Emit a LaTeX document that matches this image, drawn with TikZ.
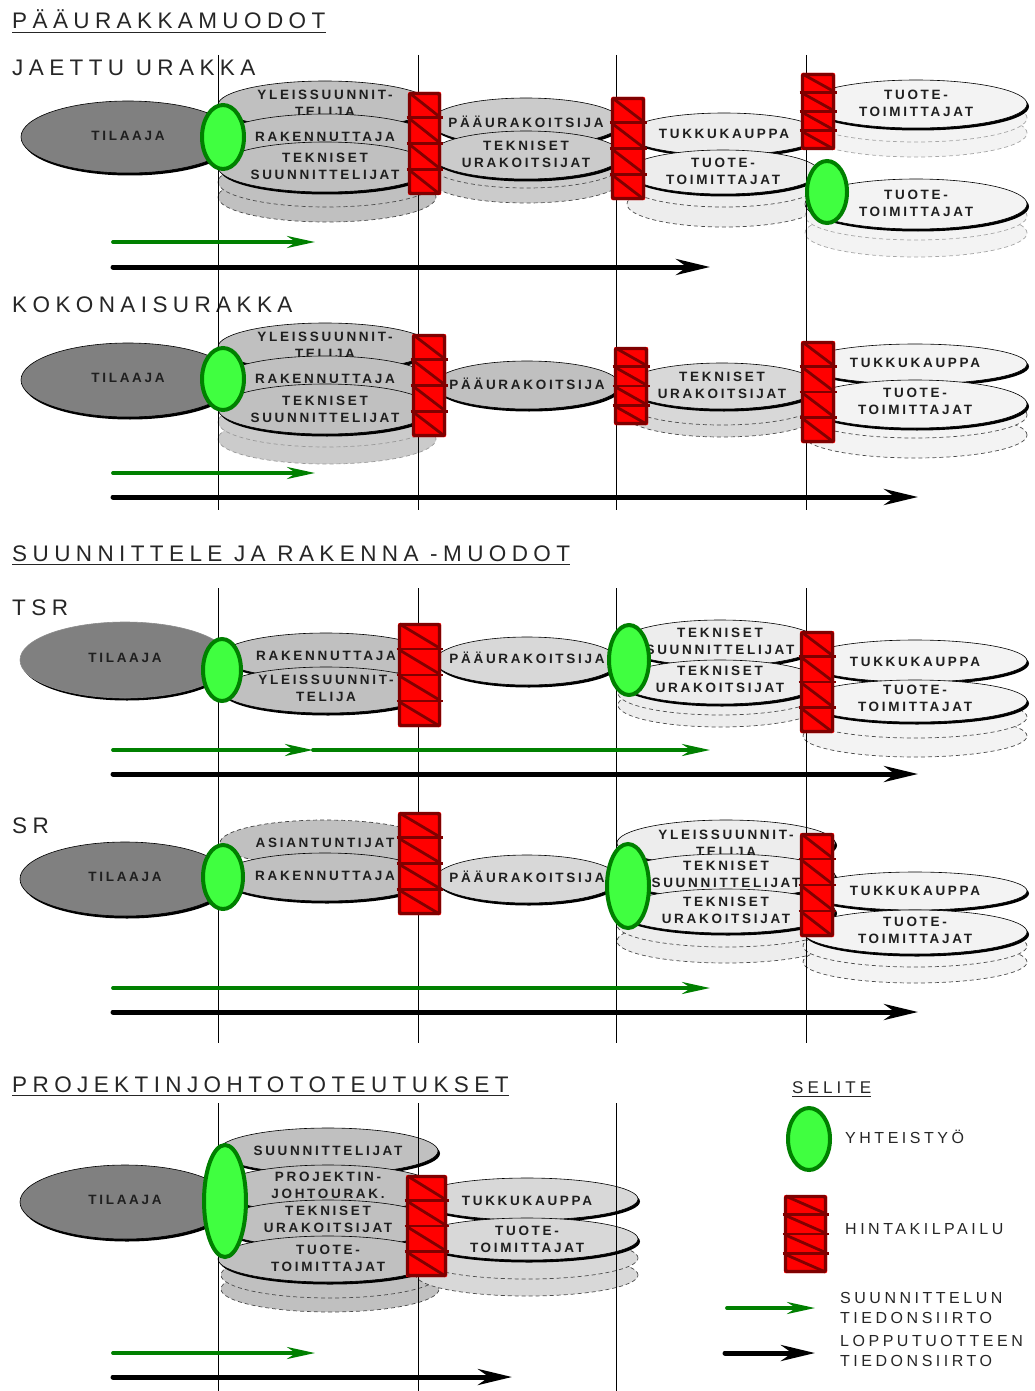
\documentclass[tikz,border=0pt]{standalone}
\usepackage{fontspec}
\setmainfont{Liberation Sans}
\newfontfamily\headfont{Liberation Sans}[LetterSpace=24]
\newfontfamily\tagfont{Liberation Sans}[LetterSpace=20]
\newfontfamily\keyfont{Liberation Sans}[LetterSpace=22]
\usetikzlibrary{arrows.meta}

\definecolor{clientgray}{HTML}{808080}
\definecolor{ga}{HTML}{C0C0C0}
\definecolor{gb}{HTML}{CBCBCB}
\definecolor{gc}{HTML}{D8D8D8}
\definecolor{gd}{HTML}{EDEDED}
\definecolor{ge}{HTML}{F3F3F3}
\definecolor{coopfill}{HTML}{40FF40}
\definecolor{coopedge}{HTML}{008000}
\definecolor{bidfill}{HTML}{FF0000}
\definecolor{bidedge}{HTML}{800000}
\definecolor{flowgreen}{HTML}{008000}

\tikzset{
  ovalline/.style={draw=black, line width=0.6pt},
  ghostline/.style={draw=black!70, line width=0.7pt, dash pattern=on 4pt off 3pt},
  partytext/.style={font=\tagfont\bfseries\fontsize{13.5}{17}\selectfont, align=center, inner sep=0pt, text=black!88},
  headtext/.style={font=\headfont\fontsize{22.5}{26}\selectfont, inner sep=0pt, anchor=base west, text=black!85},
  keytext/.style={font=\keyfont\fontsize{16}{19.5}\selectfont, inner sep=0pt, anchor=west, align=left, text=black!85},
  rule/.style={draw=black!85, line width=1pt},
  vline/.style={draw=black, line width=0.8pt},
  coop/.style={fill=coopfill, draw=coopedge, line width=4pt},
  bidcross/.style={draw=bidedge, line width=2.8pt},
  bidframe/.style={draw=bidedge, line width=3.2pt, rounded corners=1.5pt},
  designflow/.style={draw=flowgreen, line width=3.8pt, line cap=round, -{Stealth[length=28pt,width=12pt,inset=9pt]}},
  productflow/.style={draw=black, line width=5pt, line cap=round, -{Stealth[length=34pt,width=16pt,inset=11pt]}},
}

% party: name, look, cx, cy, rx, ry, text y, text
\newcommand\party[8]{%
  \fill[black, xshift=2pt, yshift=-2.5pt] (#3,#4) ellipse [x radius=#5pt, y radius=#6pt];
  \path[ovalline, #2] (#3,#4) ellipse [x radius=#5pt, y radius=#6pt];
  \node[partytext] (#1) at (#3,#7) {#8};
}
% ghost: look, cx, cy, rx, ry (dashed further parties of the same kind)
\newcommand\ghost[5]{%
  \path[ghostline, #1] (#2,#3) ellipse [x radius=#4pt, y radius=#5pt];
}
% coopmark: cx, cy, rx, ry
\newcommand\coopmark[4]{%
  \path[coop] (#1,#2) ellipse [x radius=#3pt, y radius=#4pt];
}
% bidbox: x1, y1, x2, y2 (four cells with diagonals)
\newcommand\bidbox[4]{%
  \pgfmathsetmacro\bidh{(#4-#2)/4}%
  \path[fill=bidfill, rounded corners=1pt] (#1,#2) rectangle (#3,#4);
  \foreach \k in {0,1,2,3}{%
    \pgfmathsetmacro\bida{#2+\k*\bidh}%
    \pgfmathsetmacro\bidb{#2+(\k+1)*\bidh}%
    \draw[bidcross] (#1+1.5,\bida+1) -- (#3-1.5,\bidb-1);
  }
  \foreach \k in {1,2,3}{%
    \pgfmathsetmacro\bida{#2+\k*\bidh}%
    \draw[bidcross] (#1-1.5,\bida) -- (#3+1.5,\bida);
  }
  \draw[bidframe] (#1+1.5,#2+1.5) rectangle (#3-1.5,#4-1.5);
}

\begin{document}
\begin{tikzpicture}[x=1pt, y=-1pt]
\useasboundingbox (0,0) rectangle (1034,1391);
\fill[white] (0,0) rectangle (1034,1391);

% ---------- headings ----------
\node[headtext] (t-main) at (12,29) {PÄÄURAKKAMUODOT};
\draw[rule] ([yshift=-3.5pt]t-main.base west) -- ([yshift=-3.5pt]t-main.base east);
\node[headtext] (t-ja) at (12,76) {JAETTU URAKKA};
\node[headtext] (t-ko) at (12,312) {KOKONAISURAKKA};
\node[headtext] (t-sr-main) at (12,561) {SUUNNITTELE JA RAKENNA -MUODOT};
\draw[rule] ([yshift=-3.5pt]t-sr-main.base west) -- ([yshift=-3.5pt]t-sr-main.base east);
\node[headtext] (t-tsr) at (12,615) {TSR};
\node[headtext] (t-sr) at (12,833) {SR};
\node[headtext] (t-pj) at (12,1092) {PROJEKTINJOHTOTOTEUTUKSET};
\draw[rule] ([yshift=-3.5pt]t-pj.base west) -- ([yshift=-3.5pt]t-pj.base east);

% ---------- jaettu urakka ----------
\party{ja-tilaaja}{fill=clientgray}{128}{137}{107}{36}{136}{TILAAJA}
\ghost{fill=ga}{327}{197}{109}{25}
\ghost{fill=ga}{327}{182}{109}{25}
\party{ja-yleis}{fill=ga}{325}{105}{107}{24}{103}{YLEISSUUNNIT-\\TELIJA}
\party{ja-rak}{fill=ga}{325}{139}{107}{25}{137}{RAKENNUTTAJA}
\party{ja-tsu}{fill=ga}{325}{167}{107}{25}{166}{TEKNISET\\SUUNNITTELIJAT}
\ghost{fill=gb}{526}{180}{96}{23}
\ghost{fill=gb}{526}{165}{96}{23}
\party{ja-pu}{fill=gb}{526}{122}{96}{24}{122}{PÄÄURAKOITSIJA}
\party{ja-tu}{fill=gb}{526}{155}{96}{24}{154}{TEKNISET\\URAKOITSIJAT}
\ghost{fill=gd}{724}{204}{97}{23}
\ghost{fill=gd}{724}{184}{97}{23}
\party{ja-tk}{fill=gd}{724}{134}{97}{21}{134}{TUKKUKAUPPA}
\party{ja-tt}{fill=gd}{723}{172}{96}{22}{171}{TUOTE-\\TOIMITTAJAT}
\ghost{fill=ge, draw=black!35}{916}{133}{111}{24}
\ghost{fill=ge, draw=black!35}{916}{118}{111}{24}
\party{ja-tt2}{fill=ge}{916}{104}{111}{24}{103}{TUOTE-\\TOIMITTAJAT}
\ghost{fill=ge, draw=black!35}{916}{233}{111}{24}
\ghost{fill=ge, draw=black!35}{916}{216}{111}{24}
\party{ja-tt3}{fill=ge}{916}{204}{111}{25}{203}{TUOTE-\\TOIMITTAJAT}

% ---------- kokonaisurakka ----------
\party{ko-tilaaja}{fill=clientgray}{128}{380}{107}{37}{378}{TILAAJA}
\ghost{fill=gb, draw=black!40}{327}{439}{109}{25}
\ghost{fill=gb, draw=black!40}{327}{422}{109}{25}
\party{ko-yleis}{fill=ga}{325}{347}{107}{24}{345}{YLEISSUUNNIT-\\TELIJA}
\party{ko-rak}{fill=ga}{325}{381}{107}{25}{379}{RAKENNUTTAJA}
\party{ko-tsu}{fill=ga}{325}{409}{107}{25}{409}{TEKNISET\\SUUNNITTELIJAT}
\party{ko-pu}{fill=ga}{527}{385}{93}{24}{384}{PÄÄURAKOITSIJA}
\ghost{fill=gc}{722}{414}{98}{23}
\ghost{fill=gc}{722}{402}{98}{23}
\party{ko-tu}{fill=gc}{722}{386}{97}{23}{385}{TEKNISET\\URAKOITSIJAT}
\ghost{fill=ge}{915}{435}{112}{23}
\ghost{fill=ge}{915}{415}{112}{23}
\party{ko-tk}{fill=ge}{915}{364}{112}{20}{363}{TUKKUKAUPPA}
\party{ko-tt}{fill=ge}{915}{404}{112}{24}{401}{TUOTE-\\TOIMITTAJAT}

% ---------- TSR ----------
\party{tsr-tilaaja}{fill=clientgray, draw=black!45}{125}{660}{105}{38}{658}{TILAAJA}
\party{tsr-rak}{fill=ga}{326}{656}{105}{23}{656}{RAKENNUTTAJA}
\party{tsr-yleis}{fill=ga}{326}{690}{105}{23}{688}{YLEISSUUNNIT-\\TELIJA}
\party{tsr-pu}{fill=gc}{527}{661}{92}{24}{658}{PÄÄURAKOITSIJA}
\ghost{fill=gd}{720}{705}{102}{22}
\ghost{fill=gd}{720}{693}{102}{22}
\party{tsr-tsu}{fill=gd}{720}{643}{100}{23}{641}{TEKNISET\\SUUNNITTELIJAT}
\party{tsr-tu}{fill=gd}{720}{682}{100}{22}{679}{TEKNISET\\URAKOITSIJAT}
\ghost{fill=ge}{915}{736}{112}{21}
\ghost{fill=ge}{915}{717}{112}{21}
\party{tsr-tk}{fill=ge}{915}{661}{112}{21}{662}{TUKKUKAUPPA}
\party{tsr-tt}{fill=ge}{915}{701}{112}{21}{698}{TUOTE-\\TOIMITTAJAT}

% ---------- SR ----------
\party{sr-tilaaja}{fill=clientgray}{125}{879}{105}{37}{877}{TILAAJA}
\ghost{fill=ga, draw=black!75}{325}{843}{105}{23}
\node[partytext] (sr-asiant) at (325,843) {ASIANTUNTIJAT};
\party{sr-rak}{fill=ga}{325}{877}{105}{24}{876}{RAKENNUTTAJA}
\party{sr-pu}{fill=gc}{527}{879}{92}{24}{877}{PÄÄURAKOITSIJA}
\ghost{fill=gd}{726}{941}{109}{22}
\ghost{fill=gd}{726}{925}{109}{22}
\party{sr-yleis}{fill=gd}{726}{843}{109}{23}{843}{YLEISSUUNNIT-\\TELIJA}
\party{sr-tsu}{fill=gd}{726}{876}{109}{22}{874}{TEKNISET\\SUUNNITTELIJAT}
\party{sr-tu}{fill=gd}{726}{911}{109}{22}{910}{TEKNISET\\URAKOITSIJAT}
\ghost{fill=ge}{915}{962}{112}{21}
\ghost{fill=ge}{915}{946}{112}{21}
\party{sr-tk}{fill=ge}{915}{891}{112}{19}{891}{TUKKUKAUPPA}
\party{sr-tt}{fill=ge}{915}{932}{112}{22}{930}{TUOTE-\\TOIMITTAJAT}

% ---------- projektinjohto ----------
\party{pj-tilaaja}{fill=clientgray}{125}{1202}{105}{37}{1200}{TILAAJA}
\ghost{fill=ga}{330}{1289}{109}{23}
\ghost{fill=ga}{330}{1275}{109}{23}
\party{pj-suun}{fill=ga}{328}{1151}{110}{23}{1151}{SUUNNITTELIJAT}
\party{pj-proj}{fill=ga}{328}{1189}{110}{24}{1185}{PROJEKTIN-\\JOHTOURAK.}
\party{pj-tu}{fill=ga}{328}{1224}{110}{24}{1219}{TEKNISET\\URAKOITSIJAT}
\party{pj-tt}{fill=ga}{328}{1259}{110}{23}{1258}{TUOTE-\\TOIMITTAJAT}
\ghost{fill=gc}{527}{1275}{111}{21}
\ghost{fill=gc}{527}{1258}{111}{21}
\party{pj-tk}{fill=gc}{527}{1199}{111}{21}{1201}{TUKKUKAUPPA}
\party{pj-tt2}{fill=gc}{527}{1239}{111}{21}{1239}{TUOTE-\\TOIMITTAJAT}

% ---------- phase boundaries ----------
\foreach \xx in {218,418,616,806}{
  \draw[vline] (\xx,55) -- (\xx,510);
  \draw[vline] (\xx,588) -- (\xx,1043);
}
\foreach \xx in {218,418,616}{
  \draw[vline] (\xx,1103) -- (\xx,1391);
}

% ---------- cooperation and price competition ----------
\coopmark{223}{137}{21}{32}
\coopmark{827}{192}{20}{31}
\bidbox{408}{92}{441}{195}
\bidbox{611}{97}{645}{200}
\bidbox{801}{73}{835}{150}

\coopmark{223}{379}{21}{31}
\bidbox{412}{334}{446}{437}
\bidbox{614}{347}{648}{425}
\bidbox{801}{341}{835}{443}

\coopmark{222}{670}{19}{31}
\coopmark{629}{660}{20}{35}
\bidbox{398}{623}{441}{727}
\bidbox{800}{631}{834}{733}

\coopmark{223}{877}{20}{32}
\coopmark{628}{886}{21}{42}
\bidbox{398}{812}{441}{915}
\bidbox{800}{833}{834}{937}

\coopmark{225}{1201}{21}{56}
\bidbox{406}{1175}{447}{1277}

% ---------- information flows ----------
\coordinate (ja-g0) at (113,242);  \coordinate (ja-g1) at (315,242);
\coordinate (ja-b0) at (113,267);  \coordinate (ja-b1) at (710,267);
\coordinate (ko-g0) at (113,473);  \coordinate (ko-g1) at (315,473);
\coordinate (ko-b0) at (113,497);  \coordinate (ko-b1) at (918,497);
\coordinate (tsr-g0) at (113,750); \coordinate (tsr-gm) at (313,750); \coordinate (tsr-g1) at (710,750);
\coordinate (tsr-b0) at (113,774); \coordinate (tsr-b1) at (918,774);
\coordinate (sr-g0) at (113,988);  \coordinate (sr-g1) at (710,988);
\coordinate (sr-b0) at (113,1012); \coordinate (sr-b1) at (918,1012);
\coordinate (pj-g0) at (113,1353); \coordinate (pj-g1) at (315,1353);
\coordinate (pj-b0) at (113,1377); \coordinate (pj-b1) at (512,1377);

\draw[designflow] (ja-g0) -- (ja-g1);
\draw[productflow] (ja-b0) -- (ja-b1);
\draw[designflow] (ko-g0) -- (ko-g1);
\draw[productflow] (ko-b0) -- (ko-b1);
\draw[designflow] (tsr-g0) -- (tsr-gm);
\draw[designflow] (tsr-gm) -- (tsr-g1);
\draw[productflow] (tsr-b0) -- (tsr-b1);
\draw[designflow] (sr-g0) -- (sr-g1);
\draw[productflow] (sr-b0) -- (sr-b1);
\draw[designflow] (pj-g0) -- (pj-g1);
\draw[productflow] (pj-b0) -- (pj-b1);

% ---------- legend ----------
\node[headtext, font=\headfont\fontsize{17}{20}\selectfont] (t-key) at (792,1093) {SELITE};
\draw[rule] ([yshift=-3.5pt]t-key.base west) -- ([yshift=-3.5pt]t-key.base east);
\coopmark{809}{1139}{21}{31}
\node[keytext] (k-coop) at (845,1137) {YHTEISTYÖ};
\bidbox{784}{1195}{827}{1273}
\node[keytext] (k-bid) at (845,1229) {HINTAKILPAILU};
\coordinate (k-g0) at (727,1308); \coordinate (k-g1) at (815,1308);
\coordinate (k-b0) at (725,1353); \coordinate (k-b1) at (815,1353);
\draw[designflow] (k-g0) -- (k-g1);
\draw[productflow] (k-b0) -- (k-b1);
\node[keytext] (k-design) at (840,1308) {SUUNNITTELUN\\TIEDONSIIRTO};
\node[keytext] (k-product) at (840,1351) {LOPPUTUOTTEEN\\TIEDONSIIRTO};
\end{tikzpicture}
\end{document}
